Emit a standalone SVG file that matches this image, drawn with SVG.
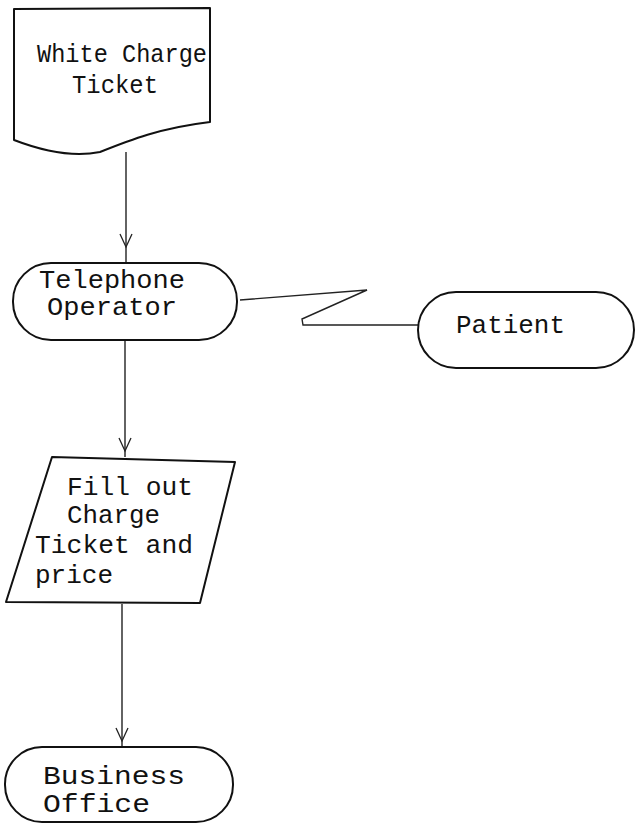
<svg xmlns="http://www.w3.org/2000/svg" width="636" height="825" viewBox="0 0 636 825">
  <style>
    .shape { fill: none; stroke: #111; stroke-width: 2; stroke-linejoin: round; }
    .flow { fill: none; stroke: #222; stroke-width: 1.4; }
    .head { fill: none; stroke: #222; stroke-width: 1.3; stroke-linejoin: miter; }
    .label { font-family: "Liberation Mono", "DejaVu Sans Mono", monospace; font-size: 26px; fill: #111; }
  </style>
  <defs>
    <!-- open V arrowhead, tip at origin, pointing down -->
    <path id="vhead" class="head" d="M -6 -13 L 0 0 L 6 -13"/>
  </defs>
  <rect width="636" height="825" fill="#fff"/>

  <!-- connectors -->
  <g id="connectors">
    <line class="flow" x1="126" y1="152" x2="126" y2="263"/>
    <use href="#vhead" x="126" y="247"/>
    <line class="flow" x1="125" y1="340" x2="125" y2="457"/>
    <use href="#vhead" x="125" y="451"/>
    <line class="flow" x1="122" y1="604" x2="122" y2="747"/>
    <use href="#vhead" x="122" y="741"/>
    <!-- telephone link -->
    <polyline class="flow" points="240,300 367,290 302,319 303,325 418,325" stroke-width="1.6"/>
  </g>

  <g id="white-charge-ticket">
    <path class="shape" d="M 14 9 L 210 8 L 210 122 C 160 128 130 140 100 152 C 70 158 40 150 14 140 Z"/>
    <text class="label" x="37" y="62" textLength="170" lengthAdjust="spacingAndGlyphs">White Charge</text>
    <text class="label" x="72" y="93" textLength="86" lengthAdjust="spacingAndGlyphs">Ticket</text>
  </g>

  <g id="telephone-operator">
    <rect class="shape" x="13" y="263" width="224" height="77" rx="38" ry="38"/>
    <text class="label" x="39" y="288" textLength="146" lengthAdjust="spacingAndGlyphs">Telephone</text>
    <text class="label" x="47" y="315" textLength="130" lengthAdjust="spacingAndGlyphs">Operator</text>
  </g>

  <g id="patient">
    <rect class="shape" x="418" y="292" width="216" height="76" rx="38" ry="38"/>
    <text class="label" x="456" y="333" textLength="109" lengthAdjust="spacingAndGlyphs">Patient</text>
  </g>

  <g id="fill-out-charge-ticket">
    <polygon class="shape" points="52,457 235,462 200,603 6,602"/>
    <text class="label" x="67" y="495" textLength="126" lengthAdjust="spacingAndGlyphs">Fill out</text>
    <text class="label" x="67" y="523" textLength="93" lengthAdjust="spacingAndGlyphs">Charge</text>
    <text class="label" x="35" y="553" textLength="158" lengthAdjust="spacingAndGlyphs">Ticket and</text>
    <text class="label" x="35" y="583" textLength="78" lengthAdjust="spacingAndGlyphs">price</text>
  </g>

  <g id="business-office">
    <rect class="shape" x="5" y="747" width="228" height="75" rx="37" ry="37"/>
    <text class="label" x="43" y="784" textLength="142" lengthAdjust="spacingAndGlyphs">Business</text>
    <text class="label" x="43" y="812" textLength="107" lengthAdjust="spacingAndGlyphs">Office</text>
  </g>
</svg>
